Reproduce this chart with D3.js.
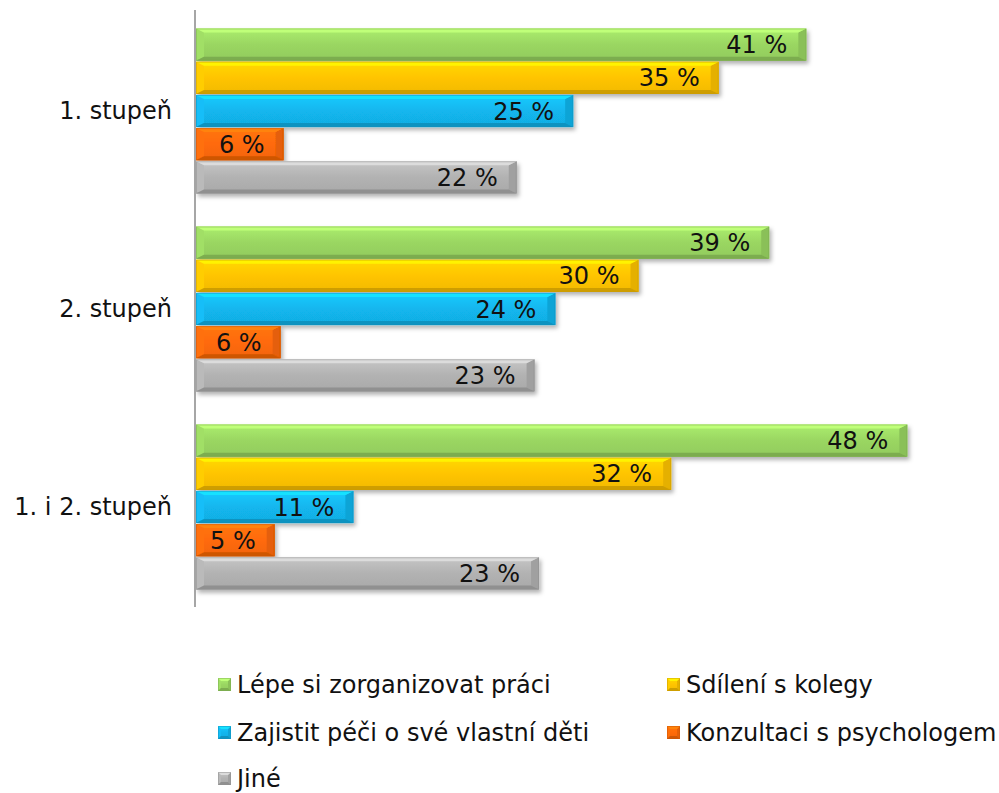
<!DOCTYPE html>
<html lang="cs">
<head>
<meta charset="utf-8">
<title>Chart</title>
<script src="https://cdnjs.cloudflare.com/ajax/libs/d3/7.8.5/d3.min.js"></script>
<style>
  body { margin: 0; background: #fff; }
  text { font-family: "DejaVu Sans", Verdana, sans-serif; }
</style>
</head>
<body>
<script>
// data (percent)
var categories = ["1. stupeň", "2. stupeň", "1. i 2. stupeň"];
var seriesNames = ["Lépe si zorganizovat práci", "Sdílení s kolegy",
                   "Zajistit péči o své vlastní děti", "Konzultaci s psychologem", "Jiné"];
var lepe = [41.1, 38.6, 47.9];
var sdileni = [35.2, 29.8, 32.0];
var zajistit = [25.4, 24.2, 10.6];
var konzultaci = [5.9, 5.7, 5.3];
var jine = [21.6, 22.8, 23.1];
var seriesValues = [lepe, sdileni, zajistit, konzultaci, jine];
var colors = ["#9ad662", "#ffc400", "#12b6ee", "#ff6a08", "#b2b2b2"];

var w = 999, h = 793;
var x0 = 195;

var svg = d3.select("body").append("svg")
    .attr("width", w)
    .attr("height", h);

var defs = svg.append("defs");
var f = defs.append("filter").attr("id", "shadow")
    .attr("x", "-5%").attr("y", "-30%").attr("width", "115%").attr("height", "180%");
f.append("feDropShadow").attr("dx", 2).attr("dy", 3)
    .attr("stdDeviation", 2).attr("flood-color", "#000").attr("flood-opacity", 0.3);

colors.forEach(function(c, i) {
  var g = defs.append("linearGradient").attr("id", "grad" + i)
      .attr("x1", 0).attr("y1", 0).attr("x2", 0).attr("y2", 1);
  g.append("stop").attr("offset", "0%").attr("stop-color", d3.color(c).brighter(0.3));
  g.append("stop").attr("offset", "50%").attr("stop-color", c);
  g.append("stop").attr("offset", "100%").attr("stop-color", d3.color(c).darker(0.15));
});

var x = d3.scaleLinear().domain([0, 50]).range([x0, x0 + 50 * 14.85]);

var y = d3.scaleBand().domain(categories).range([12, 606])
    .paddingInner(1 / 6).paddingOuter(1 / 12);

var ySub = d3.scaleBand().domain(d3.range(seriesNames.length))
    .range([0, y.bandwidth()]).paddingInner(0.03);

// draw a bevelled bar
function bevelBar(sel, bx, by, bw, bh, i, bwid, bhgt) {
  var c = colors[i];
  var light = d3.color(c).brighter(0.6);
  var dark = d3.color(c).darker(0.6);
  var mid = d3.color(c).darker(0.3);
  var xa = bx, xb = bx + bw, ya = by, yb = by + bh;
  var bx2 = Math.min(bwid, bw / 2);
  sel.append("rect").attr("x", xa).attr("y", ya).attr("width", bw).attr("height", bh)
      .attr("fill", "url(#grad" + i + ")");
  // left
  sel.append("polygon").attr("fill", d3.color(c).brighter(0.12))
      .attr("points", [[xa, ya], [xa + bx2, ya + bhgt], [xa + bx2, yb - bhgt], [xa, yb]].join(" "));
  // right
  sel.append("polygon").attr("fill", mid)
      .attr("points", [[xb, ya], [xb - bx2, ya + bhgt], [xb - bx2, yb - bhgt], [xb, yb]].join(" "));
  // top
  sel.append("polygon").attr("fill", light)
      .attr("points", [[xa, ya], [xb, ya], [xb - bx2, ya + bhgt], [xa + bx2, ya + bhgt]].join(" "));
  // bottom
  sel.append("polygon").attr("fill", dark)
      .attr("points", [[xa, yb], [xb, yb], [xb - bx2, yb - bhgt], [xa + bx2, yb - bhgt]].join(" "));
  sel.append("rect").attr("x", xa + 0.5).attr("y", ya + 0.5).attr("width", bw - 1).attr("height", bh - 1)
      .attr("fill", "none").attr("stroke", dark).attr("stroke-opacity", 0.5);
}

var groups = svg.selectAll("g.cat")
    .data(categories)
    .enter()
    .append("g")
    .attr("class", "cat")
    .attr("transform", function(d) { return "translate(0," + y(d) + ")"; });

groups.each(function(cat, ci) {
  var g = d3.select(this);
  seriesValues.forEach(function(vals, si) {
    var v = vals[ci];
    var bar = g.append("g").attr("filter", "url(#shadow)");
    bevelBar(bar, x(0) + 1, ySub(si), x(v) - x(0), ySub.bandwidth(), si, 8, 4);
  });
  seriesValues.forEach(function(vals, si) {
    var v = vals[ci];
    g.append("text")
        .attr("x", x(v) - 18)
        .attr("y", ySub(si) + ySub.bandwidth() / 2)
        .attr("dy", "0.36em")
        .attr("text-anchor", "end")
        .attr("font-size", "24px")
        .attr("fill", "#111")
        .text(Math.round(v) + " %");
  });
});

// category axis
var yAxis = d3.axisLeft(y).tickSize(0).tickPadding(23);
var ag = svg.append("g").attr("transform", "translate(" + x0 + ",0)").call(yAxis);
ag.select(".domain").attr("stroke", "#888").attr("stroke-width", 1.5)
    .attr("d", "M0,10V607");
ag.selectAll("text").attr("font-size", "24px").attr("fill", "#111")
    .attr("font-family", "'DejaVu Sans', Verdana, sans-serif");

// legend
var legX = [218, 667];
var legY = [684, 732, 778];
var leg = svg.selectAll("g.leg")
    .data(seriesNames)
    .enter()
    .append("g")
    .attr("class", "leg")
    .attr("transform", function(d, i) {
      return "translate(" + legX[i % 2] + "," + legY[Math.floor(i / 2)] + ")";
    });

leg.each(function(d, i) {
  bevelBar(d3.select(this), 0, -6, 13, 13, i, 3, 3);
});

leg.append("text")
    .attr("x", 19)
    .attr("y", 0)
    .attr("dy", "0.36em")
    .attr("font-size", "24px")
    .attr("fill", "#111")
    .text(function(d) { return d; });
</script>
</body>
</html>
